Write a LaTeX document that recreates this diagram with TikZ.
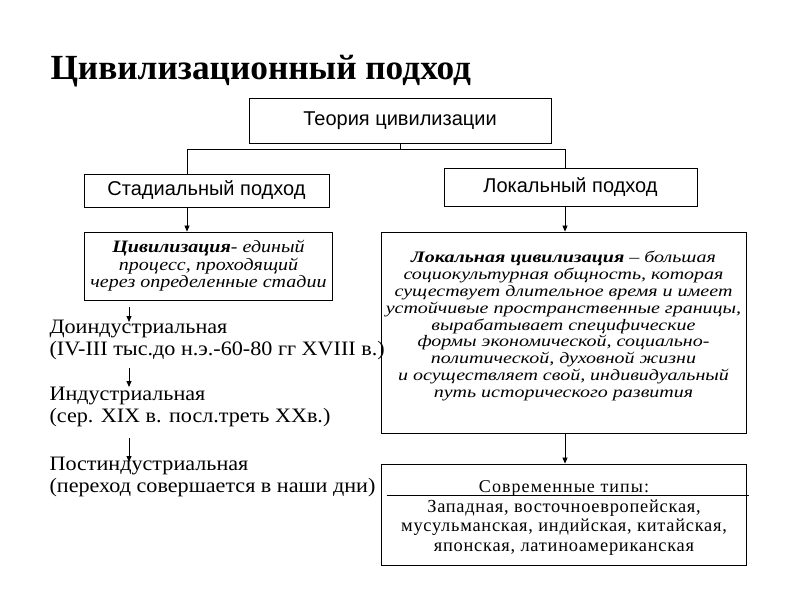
\documentclass[tikz,border=0pt]{standalone}
\usepackage{fontspec}
\setmainfont{Liberation Serif}
\setsansfont{Liberation Sans}
\newfontfamily\wideserif[FakeStretch=1.08]{Liberation Serif}
\newfontfamily\midserif[FakeStretch=1.15]{Liberation Serif}
\newfontfamily\widerserif[FakeStretch=1.25]{Liberation Serif}
\usepackage{tikz}
\usetikzlibrary{arrows.meta}
\usetikzlibrary{calc}

\tikzset{
  box/.style={draw, line width=0.9pt, inner sep=0pt, align=center},
  head/.style={box, font=\sffamily\fontsize{20}{22}\selectfont},
  arr/.style={-{Triangle[length=6pt, width=5pt]}, line width=0.8pt},
  link/.style={line width=0.8pt},
  stagetext/.style={anchor=base west, align=left, font=\wideserif\fontsize{20.5}{22}\selectfont}
}

\begin{document}
\begin{tikzpicture}[x=1pt, y=-1pt]
  \useasboundingbox (0,0) rectangle (800,600);
  \node[anchor=base west, font=\bfseries\fontsize{35.3}{40}\selectfont] (title) at (47,79) {Цивилизационный подход};
  % top of the tree
  \node[head, minimum width=302, minimum height=45] (theory) at (400,120.5) {Теория цивилизации};
  \node[head, minimum width=245, minimum height=33] (stage) at (206.5,190.5) {Стадиальный подход};
  \node[head, minimum width=253, minimum height=38] (local) at (570.5,187) {Локальный подход};
  \coordinate (fork) at ($(theory.south)+(0,6)$);
  \coordinate (lx) at (187,0);
  \coordinate (rx) at (565,0);
  \draw[link] (theory.south) -- (fork);
  \draw[link] (fork) -| (lx |- stage.north);
  \draw[link] (fork) -| (rx |- local.north);
  % definitions
  \node[box, minimum width=248, minimum height=68, font=\midserif\itshape\fontsize{17.4}{17.5}\selectfont] (stagedef) at (208.5,266)
    {\textbf{Цивилизация}- единый\\процесс, проходящий\\через определенные стадии};
  \node[box, minimum width=365, minimum height=201] (localdef) at (563.5,332.5) {};
  \node[align=center, inner sep=0pt, font=\widerserif\itshape\fontsize{16}{16.8}\selectfont] (localtext) at (563.5,326)
    {\textbf{Локальная цивилизация} – большая\\социокультурная общность, которая\\существует длительное время и имеет\\устойчивые пространственные границы,\\вырабатывает специфические\\формы экономической, социально-\\политической, духовной жизни\\и осуществляет свой, индивидуальный\\путь исторического развития};
  \draw[arr] (lx |- stage.south) -- (lx |- stagedef.north);
  \draw[arr] (rx |- local.south) -- (rx |- localdef.north);
  % stages
  \node[stagetext] (pre) at (46,355) {Доиндустриальная\\(IV-III тыс.до н.э.-60-80 гг XVIII в.)};
  \node[stagetext] (ind) at (46,422) {Индустриальная\\(сер. XIX в. посл.треть XXв.)};
  \node[stagetext] (post) at (46,492) {Постиндустриальная\\(переход совершается в наши дни)};
  \foreach \n/\ya/\yb in {1/307/322, 2/368/387, 3/438/462}{
    \coordinate (up\n) at (129,\ya);
    \coordinate (dn\n) at (129,\yb);
    \draw[arr] (up\n) -- (dn\n);
  }
  % modern types
  \node[box, minimum width=365, minimum height=101] (types) at (563.5,514.5) {};
  \draw[arr] (rx |- localdef.south) -- (rx |- types.north);
  \node[anchor=base, font=\fontsize{18}{19}\selectfont\addfontfeature{LetterSpace=6}] (typeshd) at (564,492) {Современные типы:};
  \node[anchor=base, align=center, font=\fontsize{18.4}{19.3}\selectfont\addfontfeature{LetterSpace=4}] (typeslist) at (564,551)
    {Западная, восточноевропейская,\\мусульманская, индийская, китайская,\\японская, латиноамериканская};
  \draw[link] ([xshift=6pt, yshift=-3pt]types.west |- typeshd.base) -- ([xshift=3pt, yshift=-3pt]types.east |- typeshd.base);
\end{tikzpicture}
\end{document}
